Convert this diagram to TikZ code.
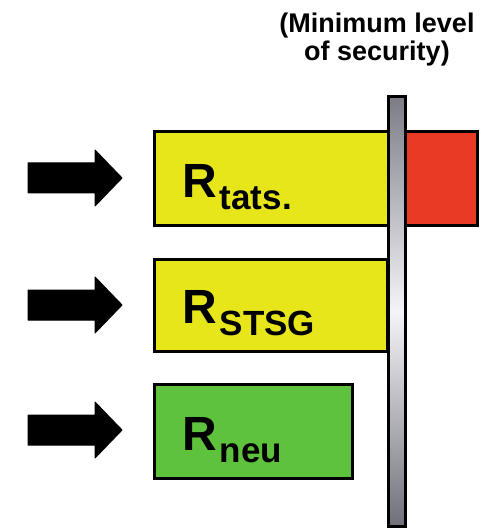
\documentclass[tikz,border=0pt]{standalone}
\usepackage{fontspec}
\setmainfont{Liberation Sans}
\usetikzlibrary{calc}
\definecolor{boxyellow}{HTML}{E6E61A}
\definecolor{boxred}{HTML}{E83A25}
\definecolor{boxgreen}{HTML}{5EC23C}
\definecolor{polegray}{HTML}{7C7C86}
\definecolor{polelight}{HTML}{F4F4F8}
\newcommand{\rsub}[1]{{\fontsize{48}{48}\selectfont R}\kern3pt\raisebox{-12pt}{\fontsize{35}{35}\selectfont #1}}
\begin{document}
\begin{tikzpicture}[x=1pt,y=-1pt,
  panel/.style={draw=black,line width=3pt,inner sep=0pt,outer sep=0pt},
  rlabel/.style={anchor=base west,inner sep=0pt,font=\bfseries},
  bigarrow/.style={fill=black,draw=black,line width=1pt,line join=round}]
\useasboundingbox (0,0) rectangle (494,529);
% title
\node[anchor=base,inner sep=0pt,align=center,
  font=\bfseries\fontsize{27}{28.5}\selectfont] (title) at (377,61)
  {(Minimum level\\of security)};
% panels
\node[panel,fill=boxyellow,minimum width=235pt,minimum height=94pt] (tats) at (272,178.5) {};
\node[panel,fill=boxred,minimum width=73pt,minimum height=94pt] (flag) at (441,178.5) {};
\node[panel,fill=boxyellow,minimum width=233pt,minimum height=92pt] (stsg) at (271,305.5) {};
\node[panel,fill=boxgreen,minimum width=198pt,minimum height=94pt] (neu) at (253.5,431.5) {};
% pole
\node[panel,line width=3pt,minimum width=17pt,minimum height=430pt,
  top color=polegray,bottom color=polegray!90!black,middle color=polelight] (pole) at (397,311.5) {};
% labels
\node[rlabel] (ltats) at (182,197) {\rsub{tats.}};
\node[rlabel] (lstsg) at (182,323) {\rsub{STSG}};
\node[rlabel] (lneu) at (182,450) {\rsub{neu}};
% arrows
\foreach \n/\y in {a1/178, a2/305, a3/430}{
  \coordinate (\n) at (28,\y);
  \fill[bigarrow] ($(\n)+(0,-15)$) -- ++(67,0) -- ++(0,-13) -- ($(\n)+(94,0)$)
    -- ($(\n)+(67,28)$) -- ++(0,-13) -- ($(\n)+(0,15)$) -- cycle;
}
\end{tikzpicture}
\end{document}
